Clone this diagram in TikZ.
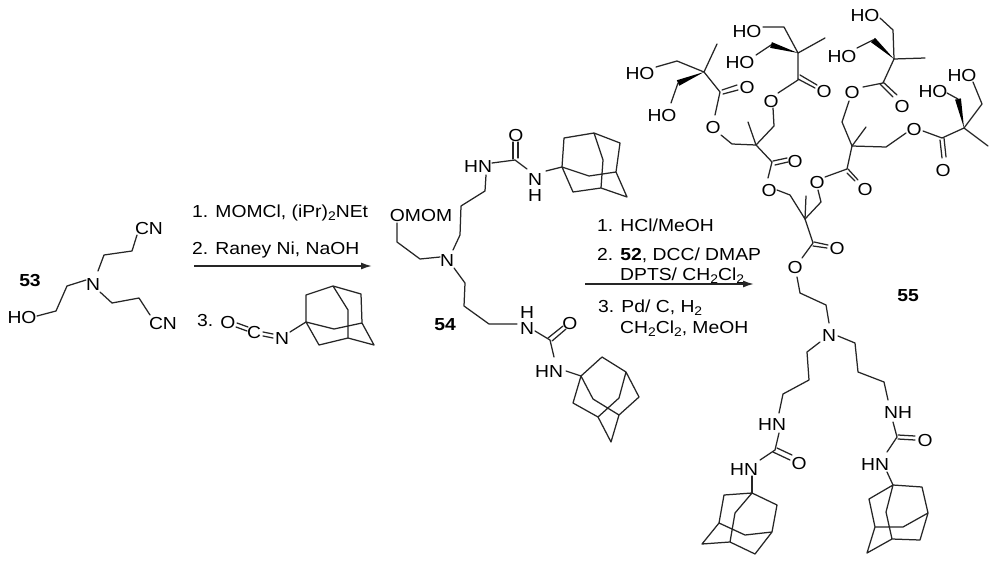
\documentclass[tikz,border=0pt]{standalone}
\usepackage{fontspec}
\setmainfont[FakeStretch=1.11]{Liberation Sans}
\usetikzlibrary{calc,arrows.meta}
\newcommand{\subt}[1]{\raisebox{-3pt}{\fontsize{12.5}{12.5}\selectfont #1}}
\newcommand{\wedgeb}[2]{\fill[black] ($#2!3pt!90:#1$) -- #1 -- ($#2!3pt!-90:#1$) -- cycle;}
\tikzset{
  bond/.style={draw=black!85,line width=1.25pt,line cap=round,line join=round},
  atom/.style={font=\fontsize{17.4}{17.4}\selectfont,inner sep=1pt,text=black},
  reagent/.style={font=\fontsize{17.4}{17.4}\selectfont,anchor=base west,inner sep=0pt,text=black},
  cpd/.style={font=\fontsize{17.4}{17.4}\selectfont\bfseries,inner sep=0pt,text=black},
  rxn/.style={draw=black!85,line width=1.6pt,-{Latex[length=11pt,width=7pt]}}
}
\begin{document}
\begin{tikzpicture}[x=1pt,y=-1pt]
\useasboundingbox (0,0) rectangle (1000,565);
\fill[white] (0,0) rectangle (1000,565);

% ---------- compound 53
\node[cpd] (l53) at (30,281) {53};
\node[atom] (n53) at (93,285) {N};
\node[atom] (ho53) at (22,318) {HO};
\node[atom] (cn53a) at (149,229) {CN};
\node[atom] (cn53b) at (163,324) {CN};
\draw[bond] (37,316) -- (56,311) -- (67,286) -- (86,280);
\draw[bond] (98,271) -- (104,255) -- (132,251) -- (137,235);
\draw[bond] (100,292) -- (112,303) -- (139,298) -- (150,315);

% ---------- reagents 1
\node[reagent] (r1) at (192,217) {1. MOMCl, (iPr)\subt{2}NEt};
\node[reagent] (r2) at (192,254) {2. Raney Ni, NaOH};
\coordinate (a1s) at (194,266);
\coordinate (a1e) at (372,266);
\draw[rxn] (a1s) -- (a1e);
\node[reagent] (r3) at (197,326) {3.};
\node[atom] (o1) at (228,323) {O};
\node[atom] (c1) at (254,333) {C};
\node[atom] (n1) at (282,339) {N};
\draw[bond] (237,323) -- (248,327) (236,327) -- (247,331);
\draw[bond] (263,332) -- (273,334) (263,336) -- (273,338);
\draw[bond] (290,332) -- (306,322);
\draw[bond] (306,322) -- (306,295) -- (333,286) -- (361,294) -- (362,323) -- (374,345) -- (348,338) -- (319,345) -- cycle
  (306,322) -- (334,329) -- (362,323) (333,286) -- (348,310) -- (348,338);

% ---------- compound 54
\node[cpd] (l54) at (445,325) {54};
\node[atom] (n54) at (447,261) {N};
\node[atom] (om54) at (421,216) {OMOM};
\node[atom] (o54a) at (516,136) {O};
\node[atom] (hn54a) at (478,167) {HN};
\node[atom] (n54a) at (535,180) {N};
\node[atom] (h54a) at (535,196) {H};
\draw[bond] (440,257) -- (420,259) -- (397,242) -- (397,223);
\draw[bond] (453,250) -- (460,235) -- (461,206) -- (485,191) -- (486,175);
\draw[bond] (492,163) -- (515,160) -- (527,169);
\draw[bond] (513,142) -- (513,159) (518,142) -- (518,158);
\draw[bond] (546,171) -- (562,167);
\draw[bond] (562,167) -- (564,138) -- (594,133) -- (620,143) -- (616,172) -- (627,197) -- (601,188) -- (573,192) -- cycle
  (562,167) -- (589,176) -- (616,172) (594,133) -- (603,160) -- (601,188);

\node[atom] (h54b) at (527,313) {H};
\node[atom] (n54b) at (527,329) {N};
\node[atom] (o54b) at (570,324) {O};
\node[atom] (hn54b) at (549,372) {HN};
\draw[bond] (454,268) -- (465,283) -- (464,306) -- (489,324) -- (517,324);
\draw[bond] (535,331) -- (550,340) -- (554,357);
\draw[bond] (548,338) -- (563,326) (552,341) -- (566,329);
\draw[bond] (566,371) -- (581,376);
\draw[bond] (581,376) -- (602,357) -- (626,372) -- (639,397) -- (619,415) -- (611,442) -- (598,417) -- (573,403) -- cycle
  (581,376) -- (593,399) -- (619,415) (626,372) -- (619,398) -- (598,417);

% ---------- reagents 2
\node[reagent] (s1) at (597,231) {1. HCl/MeOH};
\node[reagent] (s2) at (597,260) {2. \textbf{52}, DCC/ DMAP};
\node[reagent] (s3) at (620,280) {DPTS/ CH\subt{2}Cl\subt{2}};
\coordinate (a2s) at (585,284);
\coordinate (a2e) at (754,284);
\draw[rxn] (a2s) -- (a2e);
\node[reagent] (s4) at (598,312) {3. Pd/ C, H\subt{2}};
\node[reagent] (s5) at (620,333) {CH\subt{2}Cl\subt{2}, MeOH};

% ---------- compound 55: dendron
\node[cpd] (l55) at (908,296) {55};
% left top arm
\node[atom] (ho1) at (640,74) {HO};
\node[atom] (ho2) at (662,116) {HO};
\node[atom] (o11) at (747,88) {O};
\node[atom] (o12) at (713,128) {O};
\draw[bond] (656,67) -- (677,61) -- (704,72) -- (717,44);
\wedgeb{(704,72)}{(678,83)}
\draw[bond] (678,83) -- (671,103);
\draw[bond] (704,72) -- (720,92) -- (715,115);
\draw[bond] (722,90) -- (737,85) (723,94) -- (738,90);
\draw[bond] (721,135) -- (732,144) -- (756,145) -- (748,122);
\draw[bond] (756,145) -- (774,126) -- (773,108);
% second top arm
\node[atom] (o21) at (771,102) {O};
\node[atom] (ho3) at (747,32) {HO};
\node[atom] (ho4) at (740,63) {HO};
\node[atom] (o22) at (824,92) {O};
\draw[bond] (778,93) -- (798,80) -- (798,53) -- (784,27) -- (763,27);
\draw[bond] (798,53) -- (825,38);
\wedgeb{(798,53)}{(771,45)}
\draw[bond] (771,45) -- (756,55);
\draw[bond] (800,75) -- (817,85) (798,79) -- (815,88);
% third top arm
\node[atom] (ho5) at (865,16) {HO};
\node[atom] (ho6) at (842,57) {HO};
\node[atom] (o31) at (902,107) {O};
\node[atom] (o32) at (852,93) {O};
\draw[bond] (880,18) -- (893,30) -- (894,59) -- (925,58);
\wedgeb{(894,59)}{(873,40)}
\draw[bond] (873,40) -- (857,48);
\draw[bond] (894,59) -- (883,83) -- (863,87);
\draw[bond] (883,82) -- (897,95) (880,84) -- (893,97);
\draw[bond] (849,101) -- (842,122) -- (852,146) -- (866,127);
\draw[bond] (852,146) -- (886,147) -- (906,133);
% fourth top arm
\node[atom] (o41) at (914,130) {O};
\node[atom] (o42) at (943,171) {O};
\node[atom] (ho7) at (933,92) {HO};
\node[atom] (ho8) at (962,76) {HO};
\draw[bond] (923,131) -- (942,138) -- (964,128) -- (982,104) -- (973,82);
\draw[bond] (964,128) -- (988,146);
\draw[bond] (940,140) -- (942,158) (944,138) -- (946,157);
\wedgeb{(964,128)}{(958,99)}
\draw[bond] (958,99) -- (947,93);
% centre
\node[atom] (o51) at (795,162) {O};
\node[atom] (o52) at (769,191) {O};
\node[atom] (o53) at (817,183) {O};
\node[atom] (o54) at (865,190) {O};
\draw[bond] (756,145) -- (772,162) -- (768,178);
\draw[bond] (773,161) -- (787,158) (775,165) -- (788,162);
\draw[bond] (777,190) -- (790,195) -- (805,219) -- (806,196);
\draw[bond] (805,219) -- (821,202) -- (818,190);
\draw[bond] (825,177) -- (847,169) -- (852,146);
\draw[bond] (848,169) -- (858,180) (847,173) -- (855,181);
% focal ester
\node[atom] (o61) at (837,249) {O};
\node[atom] (o62) at (795,268) {O};
\node[atom] (n55) at (829,336) {N};
\draw[bond] (805,219) -- (813,243) -- (802,258);
\draw[bond] (814,242) -- (828,245) (813,246) -- (827,248);
\draw[bond] (797,277) -- (800,293) -- (826,305) -- (829,323);
% left urea arm
\node[atom] (hn1) at (772,425) {HN};
\node[atom] (o71) at (799,464) {O};
\node[atom] (hn2) at (744,470) {HN};
\draw[bond] (820,342) -- (807,352) -- (809,380) -- (783,394) -- (779,413);
\draw[bond] (779,433) -- (775,450) -- (760,460);
\draw[bond] (777,448) -- (792,455) (773,452) -- (790,460);
\draw[bond] (752,476) -- (752,493);
\draw[bond] (752,493) -- (777,505) -- (772,532) -- (755,554) -- (730,542) -- (702,544) -- (719,523) -- (724,495) -- cycle
  (752,493) -- (735,513) -- (730,542) (772,532) -- (745,535) -- (719,523);
% right urea arm
\node[atom] (nh3) at (898,413) {NH};
\node[atom] (o81) at (925,441) {O};
\node[atom] (hn4) at (875,465) {HN};
\draw[bond] (838,336) -- (855,343) -- (858,372) -- (884,382) -- (888,400);
\draw[bond] (893,422) -- (897,437) -- (887,452);
\draw[bond] (898,435) -- (915,436) (898,439) -- (915,440);
\draw[bond] (887,472) -- (893,485);
\draw[bond] (893,485) -- (922,487) -- (928,513) -- (920,540) -- (892,539) -- (867,553) -- (875,527) -- (869,499) -- cycle
  (893,485) -- (886,512) -- (892,539) (928,513) -- (903,527) -- (875,527);
\end{tikzpicture}
\end{document}
